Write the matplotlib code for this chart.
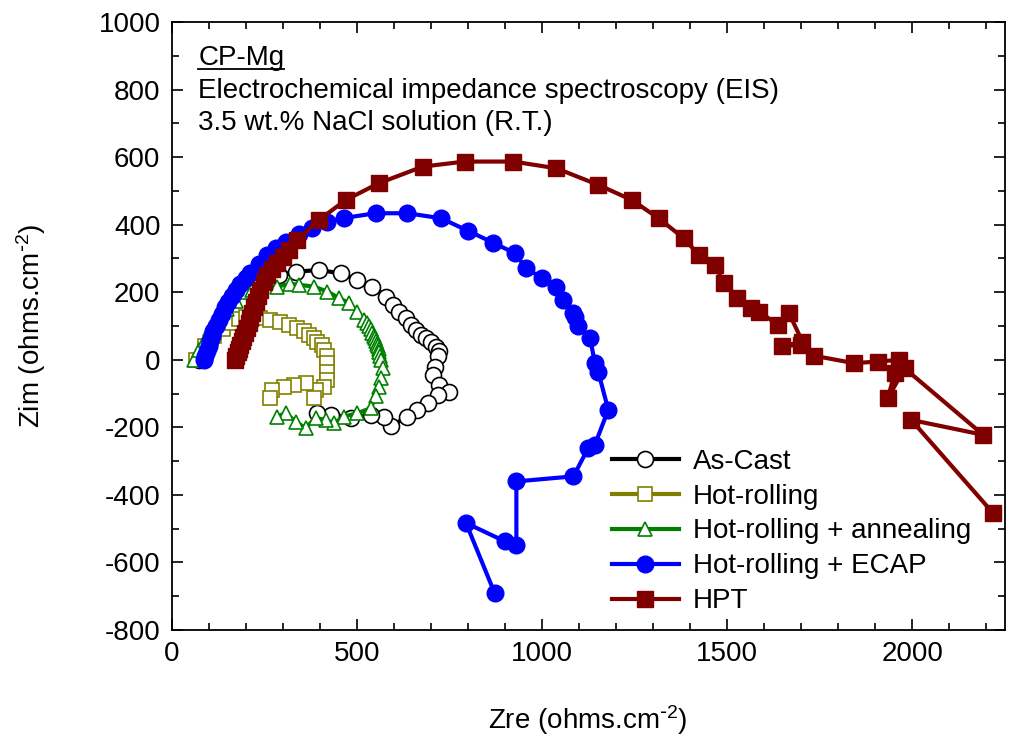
import matplotlib
matplotlib.use('Agg')
import matplotlib.pyplot as plt
from matplotlib.ticker import MultipleLocator
from matplotlib.lines import Line2D

plt.rcParams['font.family'] = ['Liberation Sans', 'DejaVu Sans']
plt.rcParams['mathtext.default'] = 'regular'
plt.rcParams['axes.unicode_minus'] = False

# As-Cast
cast_zre = [75, 140, 215, 289, 337, 398, 457, 502, 542, 579, 597, 615, 633, 646, 660, 673, 687,
            700, 714, 721, 719, 710, 705, 723, 750, 719, 692, 664, 637, 592, 574, 538, 484, 430, 393]
cast_zim = [0, 130, 225, 251, 261, 266, 256, 237, 217, 187, 163, 143, 123, 104, 89, 74, 64,
            54, 39, 25, 10, -20, -44, -74, -94, -104, -128, -148, -168, -197, -168, -163, -172, -162, -158]

# Hot-rolling
hr_zre = [65, 90, 115, 140, 163, 181, 200, 217, 240, 267, 294, 317, 339, 357, 371, 384, 393, 407,
          411, 421, 421, 419, 421, 411, 389, 384, 362, 330, 303, 271, 267]
hr_zim = [0, 40, 70, 90, 108, 120, 128, 133, 125, 118, 113, 104, 94, 84, 74, 64, 54, 44,
          30, 10, -10, -35, -59, -79, -89, -113, -69, -74, -79, -89, -113]

# Hot-rolling + annealing
ann_zre = [60, 75, 90, 105, 125, 150, 175, 200, 217, 240, 285, 321, 344, 384, 421, 452, 479, 502,
           520, 527, 533, 538, 542, 546, 549, 552, 555, 557, 559, 560, 562, 565, 570, 565, 560, 551,
           538, 502, 466, 439, 416, 389, 362, 335, 308, 285]
ann_zim = [0, 30, 60, 90, 120, 150, 175, 200, 207, 215, 217, 225, 222, 217, 202, 183, 168, 143,
           118, 108, 99, 90, 80, 72, 64, 56, 48, 40, 32, 22, 12, 0, -25, -54, -79, -108,
           -143, -158, -168, -187, -178, -172, -202, -183, -158, -168]

# Hot-rolling + ECAP
ecap_zre = [88, 91, 95, 100, 104, 108, 113, 120, 127, 135, 145, 153, 163, 175, 186, 200, 213, 235,
            258, 283, 308, 345, 380, 420, 466, 551, 637, 728, 800, 868, 926, 958, 999, 1039, 1057,
            1085, 1089, 1098, 1130, 1143, 1152, 1179, 1143, 1125, 1085, 931, 931, 899, 795, 872]
ecap_zim = [0, 10, 25, 40, 55, 70, 85, 100, 118, 135, 155, 170, 190, 207, 225, 243, 258, 285,
            311, 330, 350, 372, 390, 408, 420, 434, 434, 419, 382, 347, 316, 271, 242, 217, 178,
            140, 128, 99, 64, -10, -35, -148, -251, -261, -345, -360, -547, -537, -483, -690]

# HPT
hpt_zre = [172, 175, 179, 183, 186, 190, 194, 199, 203, 208, 213, 218, 222, 228, 234, 240, 249, 258,
           271, 285, 300, 318, 339, 398, 470, 560, 678, 791, 923, 1039, 1152, 1243, 1315, 1383, 1423,
           1468, 1491, 1527, 1563, 1586, 1636, 1667, 1703, 1649, 1700, 1735, 1843, 1907, 1965, 1952,
           1934, 1979, 2191, 1997, 2218]
hpt_zim = [0, 10, 22, 33, 45, 56, 68, 80, 95, 110, 125, 140, 155, 172, 190, 207, 230, 251,
           270, 288, 305, 325, 355, 414, 473, 523, 572, 587, 587, 567, 518, 473, 419, 360, 311,
           281, 227, 183, 153, 143, 104, 138, 54, 40, 45, 12, -10, -5, 0, -39,
           -113, -25, -222, -178, -454]

fig = plt.figure(figsize=(10.13, 7.38), dpi=100)
ax = fig.add_axes([0.1693, 0.1463, 0.8228, 0.8238])

lw = 3
ax.plot(cast_zre, cast_zim, '-o', color='black', lw=lw, ms=11.5, mfc='white', mec='black', mew=1.2,
        label='As-Cast')
ax.plot(hr_zre, hr_zim, '-s', color='#808000', lw=lw, ms=10.5, mfc='white', mec='#808000', mew=1.2,
        label='Hot-rolling')
ax.plot(ann_zre, ann_zim, '-^', color='#008000', lw=lw, ms=10.5, mfc='white', mec='#008000', mew=1.2,
        label='Hot-rolling + annealing')
ax.plot(ecap_zre, ecap_zim, '-o', color='#0000ff', lw=lw, ms=12, label='Hot-rolling + ECAP')
ax.plot(hpt_zre, hpt_zim, '-s', color='#800000', lw=lw, ms=11, label='HPT')

ax.set_xlim(0, 2250)
ax.set_ylim(-800, 1000)
ax.xaxis.set_major_locator(MultipleLocator(500))
ax.xaxis.set_minor_locator(MultipleLocator(100))
ax.yaxis.set_major_locator(MultipleLocator(200))
ax.yaxis.set_minor_locator(MultipleLocator(100))
ax.tick_params(which='both', direction='in', top=True, right=True, labelsize=20, width=1.2)
ax.tick_params(which='major', length=8, pad=8)
ax.tick_params(which='minor', length=5)
for sp in ax.spines.values():
    sp.set_linewidth(1.3)

ax.set_xlabel(r'Zre (ohms.cm$^{\text{-}2}$)', fontsize=20, labelpad=26)
ax.set_ylabel(r'Zim (ohms.cm$^{\text{-}2}$)', fontsize=20, labelpad=36)

t1 = ax.text(0.032, 0.941, 'CP-Mg', transform=ax.transAxes, fontsize=20, va='center')
ax.text(0.032, 0.887, 'Electrochemical impedance spectroscopy (EIS)', transform=ax.transAxes,
        fontsize=20, va='center')
ax.text(0.032, 0.834, '3.5 wt.% NaCl solution (R.T.)', transform=ax.transAxes, fontsize=20, va='center')

ax.legend(loc='lower left', bbox_to_anchor=(0.5285, 0.026), frameon=False, fontsize=20,
          borderpad=0, borderaxespad=0, handlelength=2.4, handletextpad=0.5, labelspacing=0.32)

# underline for CP-Mg
fig.canvas.draw()
bb = t1.get_window_extent().transformed(fig.transFigure.inverted())
fig.add_artist(Line2D([bb.x0, bb.x1], [bb.y0 + 0.003, bb.y0 + 0.003], color='black', lw=1.3,
                      transform=fig.transFigure))

fig.savefig('out.png', dpi=100)
